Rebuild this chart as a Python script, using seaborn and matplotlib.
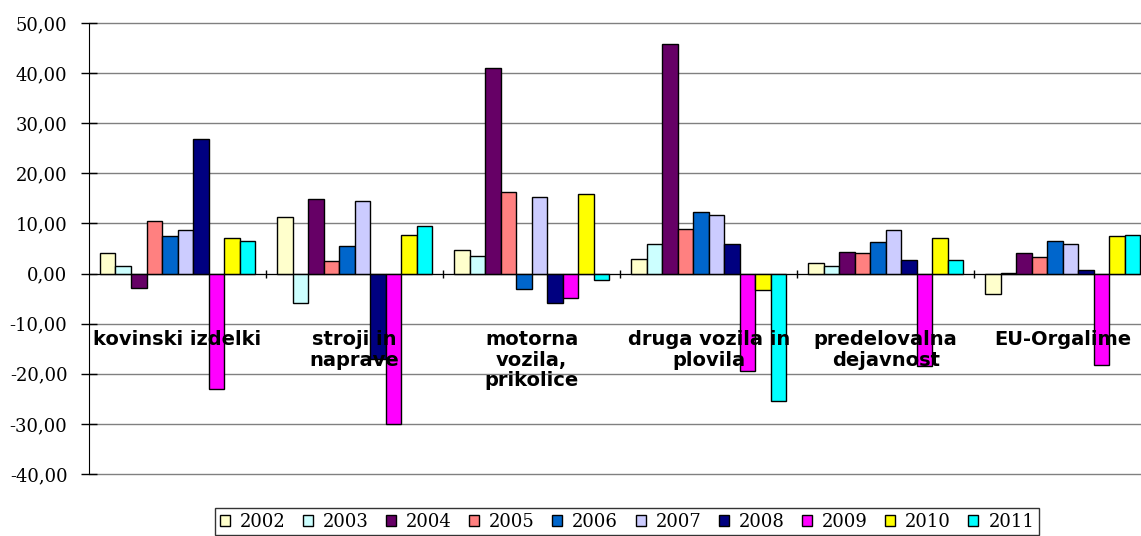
import pandas as pd
import matplotlib
matplotlib.use("Agg")
import matplotlib.pyplot as plt
import seaborn as sns
from matplotlib.ticker import FuncFormatter, FixedLocator

# ------------------------------------------------------------
# podatki (odčitano z grafa)
# ------------------------------------------------------------
categories = ["kovinski izdelki", "stroji in\nnaprave", "motorna\nvozila,\nprikolice",
              "druga vozila in\nplovila", "predelovalna\ndejavnost", "EU-Orgalime"]
years = ["2002", "2003", "2004", "2005", "2006", "2007", "2008", "2009", "2010", "2011"]

kovinski = [4.1, 1.6, -2.8, 10.4, 7.4, 8.6, 26.9, -23.1, 7.1, 6.5]
stroji = [11.3, -5.8, 14.9, 2.5, 5.5, 14.4, -17.0, -30.0, 7.7, 9.5]
motorna = [4.7, 3.4, 41.0, 16.2, -3.1, 15.3, -5.9, -4.9, 15.9, -1.3]
druga = [2.9, 5.9, 45.8, 8.9, 12.3, 11.6, 5.9, -19.5, -3.3, -25.4]
predelovalna = [2.0, 1.6, 4.3, 4.0, 6.2, 8.6, 2.6, -18.5, 7.1, 2.6]
orgalime = [-4.0, 0.2, 4.1, 3.2, 6.5, 5.9, 0.8, -18.2, 7.4, 7.7]

colors = ["#FFFFCC", "#CCFFFF", "#660066", "#FF8080", "#0066CC",
          "#CCCCFF", "#000080", "#FF00FF", "#FFFF00", "#00FFFF"]

rows = []
for cat, vals in zip(categories, [kovinski, stroji, motorna, druga, predelovalna, orgalime]):
    for y, v in zip(years, vals):
        rows.append({"panoga": cat, "leto": y, "vrednost": v})
df = pd.DataFrame(rows)

# ------------------------------------------------------------
# graf
# ------------------------------------------------------------
sns.set_style("white")
plt.rcParams["font.family"] = ["DejaVu Serif"]
plt.rcParams["text.color"] = "black"
plt.rcParams["xtick.color"] = "black"
plt.rcParams["ytick.color"] = "black"

fig = plt.figure(figsize=(11.41, 5.36), dpi=100)
ax = fig.add_axes([0.078, 0.1157, 0.931, 0.8415])

sns.barplot(data=df, x="panoga", y="vrednost", hue="leto",
            order=categories, hue_order=years,
            palette=dict(zip(years, colors)), saturation=1,
            width=0.876, edgecolor="black", linewidth=1.0, ax=ax)

ax.set_ylim(-40, 50)
ax.set_xlim(-0.5, len(categories) - 0.5)
ax.set_axisbelow(False)  # oznake kategorij naj bodo nad stolpci

# mreža za stolpci
yt = list(range(-40, 51, 10))
ax.hlines(yt, -0.5, len(categories) - 0.5, colors="#808080", linewidth=1.0,
          zorder=0, clip_on=False)
ax.set_yticks(yt)
ax.yaxis.set_major_formatter(FuncFormatter(lambda v, p: f"{v:.2f}".replace(".", ",")))
ax.tick_params(axis="y", left=True, direction="inout", length=11, width=1,
               pad=10, labelsize=13, labelcolor="black")

# os x na ničli, oznake skupin znotraj grafa
ax.spines["bottom"].set_position(("data", 0))
ax.spines["bottom"].set_color("black")
ax.spines["left"].set_color("black")
ax.spines["top"].set_visible(False)
ax.spines["right"].set_visible(False)
ax.xaxis.set_minor_locator(FixedLocator([i + 0.5 for i in range(len(categories))]))
ax.tick_params(axis="x", which="minor", bottom=True, direction="inout",
               length=6, width=1, color="black")
ax.tick_params(axis="x", which="major", bottom=False, length=0, pad=41)
for lab in ax.get_xticklabels():
    lab.set_fontfamily("DejaVu Sans")
    lab.set_fontweight("bold")
    lab.set_fontsize(14)
    lab.set_color("black")
    lab.set_multialignment("center")
    lab.set_linespacing(1.1)

ax.set_xlabel("")
ax.set_ylabel("")

# legenda spodaj
handles, labels = ax.get_legend_handles_labels()
ax.get_legend().remove()
leg = fig.legend(handles, labels, loc="upper center", bbox_to_anchor=(0.5495, 1 - 508 / 536),
                 ncol=10, frameon=True, fancybox=False, fontsize=13,
                 handlelength=0.55, handleheight=0.55, handletextpad=0.55,
                 columnspacing=0.97, borderpad=0.25, borderaxespad=0)
leg.get_frame().set_edgecolor("black")
leg.get_frame().set_linewidth(1.0)

fig.savefig("out.png", dpi=100)
